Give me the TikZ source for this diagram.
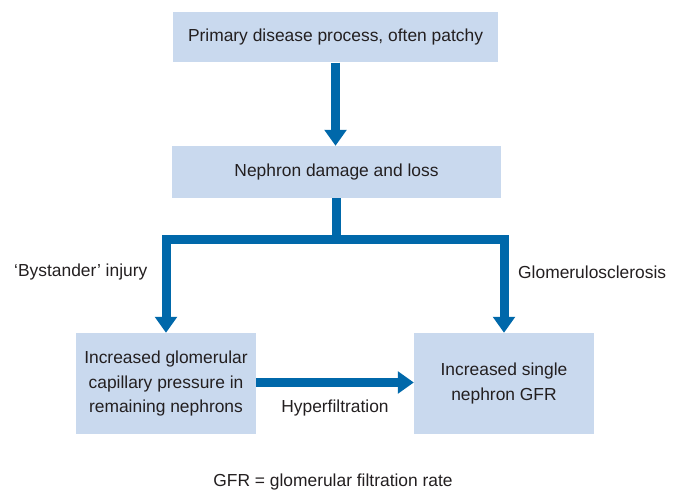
\documentclass[tikz,border=0pt]{standalone}
\usepackage{fontspec}
\setmainfont{Liberation Sans}
\usetikzlibrary{arrows.meta,calc}
\definecolor{boxfill}{RGB}{201,217,238}
\definecolor{arrblue}{RGB}{0,104,170}
\definecolor{txt}{RGB}{35,31,32}
\begin{document}
\begin{tikzpicture}[x=1pt,y=-1pt,
  box/.style={fill=boxfill,draw=none,inner sep=0pt,align=center,text=txt,
    font=\fontsize{17.4}{24.5}\selectfont},
  arr/.style={draw=arrblue,line width=9pt,line join=miter,
    -{Triangle[width=21.5pt,length=16pt]}},
  lbl/.style={font=\fontsize{17.4}{24.5}\selectfont,inner sep=0pt,text=txt}]
\useasboundingbox (0,0) rectangle (676,489);
\node[box,minimum width=325pt,minimum height=50pt] (n1) at (335.5,37.5) {Primary disease process, often patchy};
\node[box,minimum width=329pt,minimum height=52pt] (n2) at (336.5,172) {Nephron damage and loss};
\node[box,minimum width=180pt,minimum height=101pt] (n3) at (166,383.5) {Increased glomerular\\capillary pressure in\\remaining nephrons};
\node[box,minimum width=180pt,minimum height=101pt] (n4) at (504,383.5) {Increased single\\nephron GFR};
\coordinate (j) at (n2.south |- 0,239);
\draw[arr] (n1.south) -- (n1.south |- n2.north);
\draw[arr] (n2.south) -- (j) -| (n3.north);
\draw[arr] (j) -| (n4.north);
\draw[arr] (n3.east |- 0,382.5) -- (n4.west |- 0,382.5);
\node[lbl,anchor=west] (l1) at (14,272) {‘Bystander’ injury};
\node[lbl,anchor=west] (l2) at (518,272) {Glomerulosclerosis};
\node[lbl] (l3) at (335,408) {Hyperfiltration};
\node[lbl,anchor=base] (l4) at (333,486) {GFR = glomerular filtration rate};
\end{tikzpicture}
\end{document}
